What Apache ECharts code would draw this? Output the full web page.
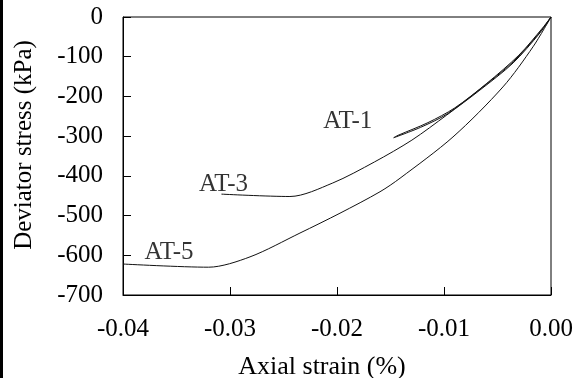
<!DOCTYPE html>
<html>
<head>
<meta charset="utf-8">
<script src="https://cdn.jsdelivr.net/npm/echarts@6/dist/echarts.min.js"></script>
<style>
  html, body { margin: 0; padding: 0; background: #fff; }
  #chart { width: 577px; height: 378px; }
</style>
</head>
<body>
<div id="chart"></div>
<script>
// axial strain (%) / deviator stress (kPa)
var at1 = [
    [0, 0], [-0.001, -37], [-0.0035, -112], [-0.0066, -181], [-0.0097, -244],
    [-0.0122, -278], [-0.0147, -304],
    [-0.0143, -298], [-0.0115, -266], [-0.0090, -229], [-0.0060, -167],
    [-0.0030, -96], [-0.0008, -28], [0, 0]
];
var at3 = [
    [0, 0], [-0.00103, -40], [-0.00355, -116], [-0.00664, -184], [-0.00975, -247],
    [-0.0130, -310], [-0.0165, -365], [-0.0204, -418], [-0.0244, -452], [-0.0308, -446]
];
var at5 = [
    [0, 0], [-0.00168, -75], [-0.00449, -176], [-0.00916, -302], [-0.01411, -406],
    [-0.01598, -440], [-0.01972, -494], [-0.02346, -544], [-0.02813, -604],
    [-0.0320, -630], [-0.0400, -622]
];
// where the curve names sit
var curveNames = ['AT-1', 'AT-3', 'AT-5'];
var nameAt = [[-0.0190, -258], [-0.0306, -416], [-0.0357, -589]];

var xMin = -0.04, xMax = 0, xStep = 0.01;
var yMin = -700, yMax = 0, yStep = 100;

var font = 'Liberation Serif, Times New Roman, serif';

var myChart = echarts.init(document.getElementById('chart'));

function curve(name, data) {
    return {
        name: name,
        type: 'line',
        data: data,
        showSymbol: false,
        smooth: 0.3,
        lineStyle: { color: '#111', width: 1 },
        silent: true
    };
}

myChart.setOption({
    animation: false,
    backgroundColor: '#fff',
    grid: {
        left: 123, right: 26, top: 17, bottom: 83,
        containLabel: false, outerBoundsMode: 'none',
        show: true, borderColor: '#000', borderWidth: 1
    },
    xAxis: {
        type: 'value',
        min: xMin, max: xMax, interval: xStep,
        name: 'Axial strain (%)',
        nameLocation: 'middle',
        nameGap: 59,
        nameTextStyle: { fontFamily: font, fontSize: 26, color: '#000', padding: [0, 30, 0, 0] },
        axisLine: { show: true, onZero: false, lineStyle: { color: '#000', width: 1 } },
        axisTick: { show: true, inside: true, length: 8, lineStyle: { color: '#000' } },
        axisLabel: {
            margin: 22, fontFamily: font, fontSize: 25, color: '#000',
            formatter: function (v) { return v.toFixed(2); }
        },
        splitLine: { show: false }
    },
    yAxis: {
        type: 'value',
        min: yMin, max: yMax, interval: yStep,
        name: 'Deviator stress (kPa)',
        nameLocation: 'middle',
        nameGap: 86,
        nameTextStyle: { fontFamily: font, fontSize: 25, color: '#000', padding: [0, 0, 0, 22] },
        axisLine: { show: true, onZero: false, lineStyle: { color: '#000', width: 1 } },
        axisTick: { show: true, inside: true, length: 8, lineStyle: { color: '#000' } },
        axisLabel: { margin: 20, fontFamily: font, fontSize: 25, color: '#000', padding: [4, 0, 0, 0] },
        splitLine: { show: false }
    },
    graphic: [
        { type: 'rect', left: 0, top: 0, shape: { width: 3, height: 378 }, style: { fill: '#000' } }
    ],
    series: [
        curve('AT-1', at1),
        curve('AT-3', at3),
        curve('AT-5', at5),
        {
            type: 'scatter',
            symbolSize: 0,
            silent: true,
            data: nameAt.map(function (p, i) { return { name: curveNames[i], value: p }; }),
            label: {
                show: true, position: 'inside', offset: [0, 2],
                formatter: '{b}',
                fontFamily: font, fontSize: 25, color: '#000'
            }
        }
    ]
});
</script>
</body>
</html>
